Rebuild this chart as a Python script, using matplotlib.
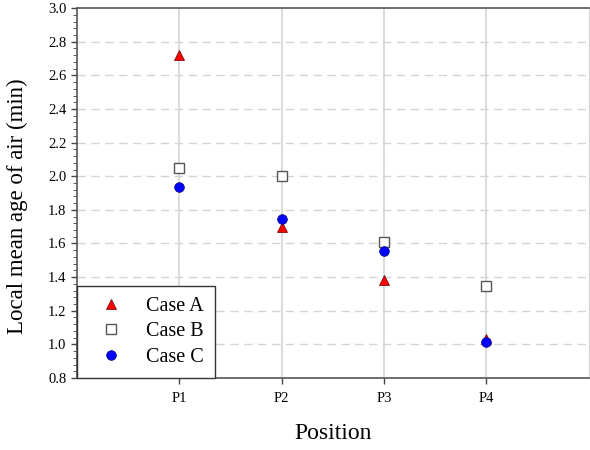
import numpy as np
import matplotlib.pyplot as plt
from matplotlib.ticker import MultipleLocator

plt.rcParams['font.family'] = ['Liberation Serif', 'DejaVu Serif']

positions = ['P1', 'P2', 'P3', 'P4']
case_a = [2.72, 1.70, 1.385, 1.03]
case_b = [2.05, 2.00, 1.61, 1.345]
case_c = [1.935, 1.745, 1.555, 1.015]

x = np.arange(1, len(positions) + 1)

fig = plt.figure(figsize=(5.9, 4.5), dpi=100)
ax = fig.add_axes([0.1305, 0.16, 0.8675, 0.822])

for yv in np.arange(1.0, 3.0, 0.2):
    ax.axhline(yv, color='#d4d4d4', lw=1.0, ls=(0, (6, 4)), zorder=0)
for xv in x:
    ax.axvline(xv, color='#d4d4d4', lw=1.2, zorder=0)

ax.plot(x, case_a, ls='none', marker='^', ms=7, mfc='red', mec='#7a1010', mew=0.6,
        label='Case A', zorder=3)
ax.plot(x, case_b, ls='none', marker='s', ms=7, mfc='white', mec='#555555', mew=1.0,
        label='Case B', zorder=3)
ax.plot(x, case_c, ls='none', marker='o', ms=7, mfc='blue', mec='#10106a', mew=0.5,
        label='Case C', zorder=4)

ax.set_xlim(0, 5)
ax.set_ylim(0.8, 3.0)
ax.set_xticks(x)
ax.set_xticklabels(positions)
ax.yaxis.set_major_locator(MultipleLocator(0.2))
ax.yaxis.set_minor_locator(MultipleLocator(0.04))
ax.yaxis.set_major_formatter(plt.FormatStrFormatter('%.1f'))
ax.tick_params(axis='both', direction='out', labelsize=10.5, color='#444444', length=4, width=1)
ax.tick_params(axis='y', which='minor', direction='out', length=3, color='#444444')
ax.tick_params(axis='x', pad=6)

for side in ['left', 'bottom', 'top']:
    ax.spines[side].set_color('#555555')
    ax.spines[side].set_linewidth(1.2)
ax.spines['right'].set_color('#d4d4d4')

ax.set_xlabel('Position', fontsize=17, labelpad=13)
ax.set_ylabel('Local mean age of air (min)', fontsize=16.5, labelpad=10)
ax.yaxis.set_label_coords(-0.095, 0.465)

leg = ax.legend(loc='lower left', borderaxespad=0, fontsize=14.5, fancybox=False,
                framealpha=1, edgecolor='#333333', borderpad=0.55, handletextpad=0.6,
                labelspacing=0.32, handlelength=2.3)
leg.get_frame().set_linewidth(1.0)

fig.savefig('out.png', dpi=100)
